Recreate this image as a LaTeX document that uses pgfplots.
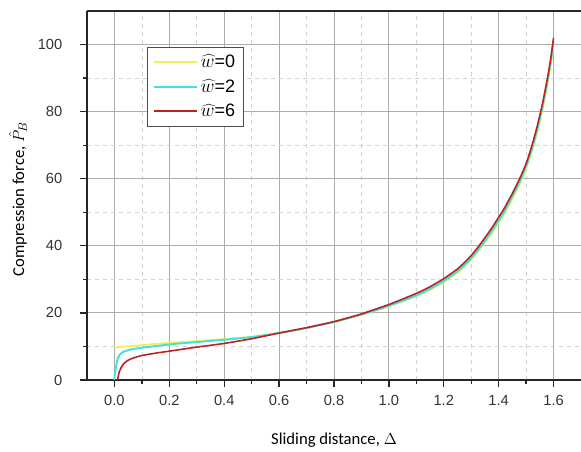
\documentclass[border=0pt]{standalone}
\usepackage{fontspec}
\setmainfont{Liberation Sans}
\newfontfamily\calibri{Carlito}
\usepackage{pgfplots}
\pgfplotsset{compat=1.18}

\definecolor{wyellow}{RGB}{240,240,90}
\definecolor{wcyan}{RGB}{64,224,224}
\definecolor{wred}{RGB}{185,35,40}

\begin{document}
\begin{tikzpicture}
\begin{axis}[
    scale only axis, width=370.5pt, height=276.75pt,
    xmin=-0.1, xmax=1.7, ymin=0, ymax=110,
    axis x line*=box, axis y line*=left,
    axis line style={line width=1.4pt, black!85},
    xtick={0,0.2,...,1.6}, minor xtick={0.1,0.3,...,1.5},
    ytick={0,20,...,100}, minor ytick={10,30,...,90},
    xtick pos=left, ytick pos=left,
    tick align=outside,
    major tick length=5pt, minor tick length=3pt,
    every tick/.style={black!85, line width=1pt},
    grid=both,
    major grid style={gray!65, line width=0.7pt},
    minor grid style={gray!35, dashed, line width=0.5pt},
    xticklabel style={/pgf/number format/.cd, fixed, fixed zerofill, precision=1, /tikz/.cd, yshift=-3pt},
    yticklabel style={xshift=-10pt},
    /pgf/number format/assume math mode=true,
    tick label style={font=\fontsize{11}{13}\selectfont, text=black!80},
    xlabel={\calibri Sliding distance, $\Delta$},
    ylabel={\calibri Compression force, $\hat{P}_B$},
    every axis x label/.style={at={(axis description cs:0.5,0)}, anchor=center, yshift=-45pt, font=\fontsize{12.5}{14}\selectfont},
    every axis y label/.style={at={(axis description cs:0,0.49)}, anchor=center, xshift=-51.75pt, rotate=90, font=\fontsize{12.5}{14}\selectfont},
    legend style={at={(axis cs:0.12,99.4)}, anchor=north west, draw=black!70, line width=0.6pt,
        font=\fontsize{13.5}{16}\selectfont, inner xsep=4pt, inner ysep=4pt,
        row sep=3.5pt, cells={anchor=west}},
    legend image code/.code={\draw[#1, line width=1.6pt] (0pt,0pt) -- (32pt,0pt);},
]
\addplot[wyellow, line width=1.4pt, smooth, tension=0.3] coordinates {
(0.0,9.7) (0.1,10.4) (0.2,11.1) (0.3,11.6) (0.4,12.2) (0.5,12.9) (0.6,14.0)
(0.7,15.5) (0.8,17.3) (0.9,19.4) (1.0,22.0) (1.1,25.0) (1.15,26.9) (1.2,29.2)
(1.25,32.0) (1.275,33.8) (1.3,35.9) (1.325,38.4) (1.35,41.0) (1.375,43.8)
(1.4,46.9) (1.42,49.4) (1.45,54.0) (1.48,59.0) (1.5,63.0) (1.52,67.8)
(1.54,73.6) (1.56,80.6) (1.58,89.0) (1.59,94.0) (1.6,100.0)};
\addlegendentry{\(\widehat{w}\)=0}
\addplot[wcyan, line width=1.4pt, smooth, tension=0.3] coordinates {
(0.0,0) (0.002,2) (0.006,4) (0.012,6.4) (0.02,7.6) (0.03,8.3) (0.05,8.9)
(0.073,9.3) (0.1,9.6) (0.2,10.6) (0.3,11.3) (0.4,12.0) (0.5,12.8) (0.6,14.0)
(0.7,15.5) (0.8,17.3) (0.9,19.5) (1.0,22.1) (1.1,25.2) (1.15,27.2) (1.2,29.5)
(1.25,32.4) (1.275,34.2) (1.3,36.3) (1.325,38.8) (1.35,41.5) (1.375,44.4)
(1.4,47.5) (1.42,50.1) (1.45,54.7) (1.48,59.7) (1.5,63.7) (1.52,68.6)
(1.54,74.5) (1.56,81.5) (1.58,90.0) (1.59,95.0) (1.6,101.0)};
\addlegendentry{\(\widehat{w}\)=2}
\addplot[wred, line width=1.2pt, smooth, tension=0.3] coordinates {
(0.012,0) (0.014,1.2) (0.018,2.5) (0.024,3.6) (0.03,4.5) (0.04,5.3) (0.05,5.9)
(0.07,6.6) (0.1,7.3) (0.15,8.0) (0.2,8.6) (0.3,9.8) (0.4,10.9) (0.5,12.3)
(0.6,14.0) (0.7,15.6) (0.8,17.4) (0.9,19.7) (1.0,22.5) (1.1,25.8) (1.15,27.8)
(1.2,30.2) (1.25,33.1) (1.275,35.0) (1.3,37.1) (1.325,39.6) (1.35,42.4)
(1.375,45.3) (1.4,48.5) (1.42,51.1) (1.45,55.6) (1.48,60.6) (1.5,64.5)
(1.52,69.5) (1.54,75.5) (1.56,82.5) (1.58,91.0) (1.59,96.0) (1.6,102.0)};
\addlegendentry{\(\widehat{w}\)=6}
\coordinate (bl) at (rel axis cs:0,0);
\coordinate (tr) at (rel axis cs:1,1);
\end{axis}
\pgfresetboundingbox
\path[use as bounding box] ([xshift=-65.25pt,yshift=-54pt]bl) rectangle ([yshift=8.25pt]tr);
\end{tikzpicture}
\end{document}
